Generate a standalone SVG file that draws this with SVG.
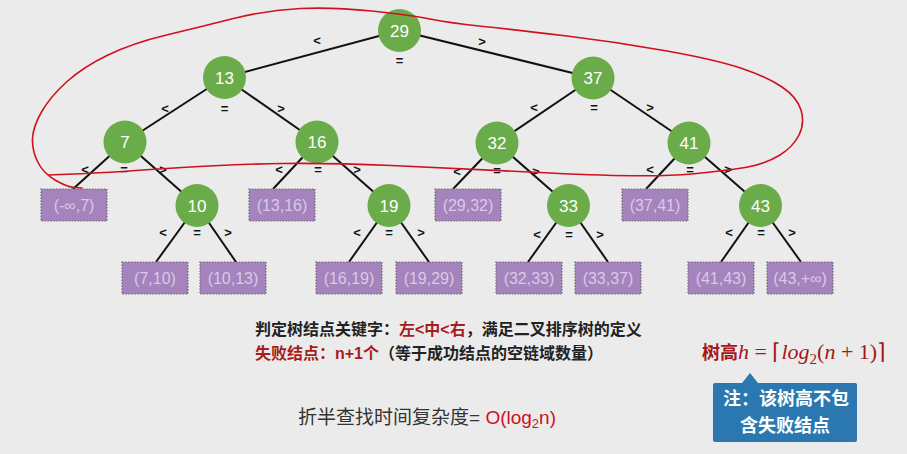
<svg xmlns="http://www.w3.org/2000/svg" width="907" height="454" viewBox="0 0 907 454">
<style>
.bg{fill:#ebebeb}
.edge{stroke:#111;stroke-width:2;fill:none}
.node circle{fill:#6aab4a}
.node text{fill:#fff;font-family:"Liberation Sans",Arial,sans-serif;font-size:17px;text-anchor:middle}
.fail rect{fill:#a583bd;stroke:#6e6e6e;stroke-width:1.2;stroke-dasharray:1.5 1.5}
.fail text{fill:#d9c9e8;font-family:"Liberation Sans",Arial,sans-serif;font-size:16px;text-anchor:middle}
.lbl{font-family:"Liberation Sans",Arial,sans-serif;font-size:13px;font-weight:bold;fill:#111;text-anchor:middle}
.cn{font-family:"Liberation Sans","Noto Sans CJK SC",sans-serif}
.m{font-family:"Liberation Serif",serif;font-size:22px}
.sub{font-family:"Liberation Serif",serif;font-size:15px}
</style>
<rect class="bg" x="0" y="0" width="907" height="454"/>
<g id="connectors">
<line class="edge" x1="399.5" y1="30.5" x2="224.5" y2="77.5"/>
<line class="edge" x1="399.5" y1="30.5" x2="593" y2="78"/>
<line class="edge" x1="224.5" y1="77.5" x2="125" y2="142"/>
<line class="edge" x1="224.5" y1="77.5" x2="317" y2="142"/>
<line class="edge" x1="593" y1="78" x2="497" y2="143"/>
<line class="edge" x1="593" y1="78" x2="689" y2="143"/>
<line class="edge" x1="125" y1="142" x2="73" y2="189"/>
<line class="edge" x1="125" y1="142" x2="197" y2="205.5"/>
<line class="edge" x1="317" y1="142" x2="273" y2="189"/>
<line class="edge" x1="317" y1="142" x2="389" y2="205.5"/>
<line class="edge" x1="497" y1="143" x2="453" y2="189"/>
<line class="edge" x1="497" y1="143" x2="568.5" y2="205.5"/>
<line class="edge" x1="689" y1="143" x2="646" y2="189"/>
<line class="edge" x1="689" y1="143" x2="760.5" y2="205.5"/>
<line class="edge" x1="197" y1="205.5" x2="156" y2="262"/>
<line class="edge" x1="197" y1="205.5" x2="236" y2="262"/>
<line class="edge" x1="389" y1="205.5" x2="349" y2="262"/>
<line class="edge" x1="389" y1="205.5" x2="429" y2="262"/>
<line class="edge" x1="568.5" y1="205.5" x2="528" y2="262"/>
<line class="edge" x1="568.5" y1="205.5" x2="608" y2="262"/>
<line class="edge" x1="760.5" y1="205.5" x2="721" y2="262"/>
<line class="edge" x1="760.5" y1="205.5" x2="801" y2="262"/>
</g>
<g id="edge-labels">
<text class="lbl" x="317" y="45">&lt;</text><text class="lbl" x="399.5" y="65">=</text><text class="lbl" x="482" y="46">&gt;</text>
<text class="lbl" x="165" y="113">&lt;</text><text class="lbl" x="224.5" y="113">=</text><text class="lbl" x="281" y="113">&gt;</text>
<text class="lbl" x="534" y="112">&lt;</text><text class="lbl" x="594" y="112">=</text><text class="lbl" x="650" y="112">&gt;</text>
<text class="lbl" x="85" y="174">&lt;</text><text class="lbl" x="124" y="174">=</text><text class="lbl" x="163" y="174">&gt;</text>
<text class="lbl" x="279" y="174">&lt;</text><text class="lbl" x="318" y="174">=</text><text class="lbl" x="357" y="174">&gt;</text>
<text class="lbl" x="457" y="176">&lt;</text><text class="lbl" x="497" y="175">=</text><text class="lbl" x="536" y="176">&gt;</text>
<text class="lbl" x="650" y="174">&lt;</text><text class="lbl" x="690" y="174">=</text><text class="lbl" x="728" y="174">&gt;</text>
<text class="lbl" x="163" y="237">&lt;</text><text class="lbl" x="197" y="237">=</text><text class="lbl" x="228" y="237">&gt;</text>
<text class="lbl" x="357" y="237">&lt;</text><text class="lbl" x="389" y="237">=</text><text class="lbl" x="421" y="237">&gt;</text>
<text class="lbl" x="537" y="239">&lt;</text><text class="lbl" x="569" y="239">=</text><text class="lbl" x="600" y="239">&gt;</text>
<text class="lbl" x="729" y="237">&lt;</text><text class="lbl" x="761" y="237">=</text><text class="lbl" x="792" y="237">&gt;</text>
</g>
<g id="n29" class="node"><circle cx="399.5" cy="30.5" r="21.5"/><text x="399.5" y="36.5">29</text></g>
<g id="n13" class="node"><circle cx="224.5" cy="77.5" r="21.5"/><text x="224.5" y="83.5">13</text></g>
<g id="n37" class="node"><circle cx="593" cy="78" r="21.5"/><text x="593" y="84">37</text></g>
<g id="n7" class="node"><circle cx="125" cy="142" r="21.5"/><text x="125" y="148">7</text></g>
<g id="n16" class="node"><circle cx="317" cy="142" r="21.5"/><text x="317" y="148">16</text></g>
<g id="n32" class="node"><circle cx="497" cy="143" r="21.5"/><text x="497" y="149">32</text></g>
<g id="n41" class="node"><circle cx="689" cy="143" r="21.5"/><text x="689" y="149">41</text></g>
<g id="n10" class="node"><circle cx="197" cy="205.5" r="21.5"/><text x="197" y="211.5">10</text></g>
<g id="n19" class="node"><circle cx="389" cy="205.5" r="21.5"/><text x="389" y="211.5">19</text></g>
<g id="n33" class="node"><circle cx="568.5" cy="205.5" r="21.5"/><text x="568.5" y="211.5">33</text></g>
<g id="n43" class="node"><circle cx="760.5" cy="205.5" r="21.5"/><text x="760.5" y="211.5">43</text></g>
<g id="f1" class="fail"><rect x="41" y="189" width="66" height="32"/><text x="74" y="211">(-∞,7)</text></g>
<g id="f2" class="fail"><rect x="249" y="189" width="66" height="32"/><text x="282" y="211">(13,16)</text></g>
<g id="f3" class="fail"><rect x="435" y="189" width="66" height="32"/><text x="468" y="211">(29,32)</text></g>
<g id="f4" class="fail"><rect x="622" y="189" width="66" height="32"/><text x="655" y="211">(37,41)</text></g>
<g id="f5" class="fail"><rect x="122" y="262" width="66" height="32"/><text x="155" y="284">(7,10)</text></g>
<g id="f6" class="fail"><rect x="200" y="262" width="66" height="32"/><text x="233" y="284">(10,13)</text></g>
<g id="f7" class="fail"><rect x="316" y="262" width="66" height="32"/><text x="349" y="284">(16,19)</text></g>
<g id="f8" class="fail"><rect x="396" y="262" width="66" height="32"/><text x="429" y="284">(19,29)</text></g>
<g id="f9" class="fail"><rect x="496" y="262" width="66" height="32"/><text x="529" y="284">(32,33)</text></g>
<g id="f10" class="fail"><rect x="575" y="262" width="66" height="32"/><text x="608" y="284">(33,37)</text></g>
<g id="f11" class="fail"><rect x="688" y="262" width="66" height="32"/><text x="721" y="284">(41,43)</text></g>
<g id="f12" class="fail"><rect x="767" y="262" width="66" height="32"/><text x="800" y="284">(43,+∞)</text></g>
<path id="red-loop" fill="none" stroke="#d0101e" stroke-width="1.6" stroke-linecap="round" d="M48,175 L74,174 Q100,173 166.5,168.5 Q233,164 283,163.5 Q333,163 391.5,165.5 Q450,168 550,173 Q650,178 691.5,174 Q733,170 750,166.5 Q767,163 780,155 Q793,147 799,135 Q805,123 801,110 Q797,97 782,87 Q767,77 742,68.5 Q717,60 667,51 Q617,42 567,36 Q517,30 483.5,26.5 Q450,23 430,19 Q410,15 371.5,11 Q333,7 300,8.5 Q267,10 233.5,18.5 Q200,27 166.5,35 Q133,43 108,55 Q83,67 66.5,82 Q50,97 41.5,112 Q33,127 32.5,138.5 Q32,150 37.5,161.5 Q43,173 55,180 Q67,187 74.5,187.5 L82,188"/>
<g id="notes">
<text class="cn" x="255" y="335" font-size="16" font-weight="bold" fill="#222">判定树结点关键字：<tspan fill="#a81c1c">左&lt;中&lt;右</tspan>，满足二叉排序树的定义</text>
<text class="cn" x="255" y="359" font-size="16" font-weight="bold" fill="#222"><tspan fill="#a81c1c">失败结点：n+1个</tspan>（等于成功结点的空链域数量）</text>
<text class="cn" x="298" y="424" font-size="19" fill="#333">折半查找时间复杂度= <tspan fill="#d0101e">O(log<tspan font-size="13" dy="4">2</tspan><tspan dy="-4">n)</tspan></tspan></text>
<text x="702" y="359" fill="#a5161a" font-size="18"><tspan class="cn" font-weight="bold">树高</tspan><tspan class="m" font-style="italic">h</tspan><tspan class="m"> = ⌈</tspan><tspan class="m" font-style="italic">log</tspan><tspan class="sub" dy="5">2</tspan><tspan class="m" dy="-5">(</tspan><tspan class="m" font-style="italic">n</tspan><tspan class="m"> + 1)⌉</tspan></text>
</g>
<g id="callout">
<path d="M750,373 L758,383 L855,383 Q857,383 857,385 L857,440 Q857,442 855,442 L715,442 Q713,442 713,440 L713,385 Q713,383 715,383 L742,383 Z" fill="#2b78b0"/>
<text class="cn" x="786" y="405" font-size="18" font-weight="bold" fill="#fff" text-anchor="middle">注：该树高不包</text>
<text class="cn" x="785" y="432" font-size="18" font-weight="bold" fill="#fff" text-anchor="middle">含失败结点</text>
</g>
</svg>
